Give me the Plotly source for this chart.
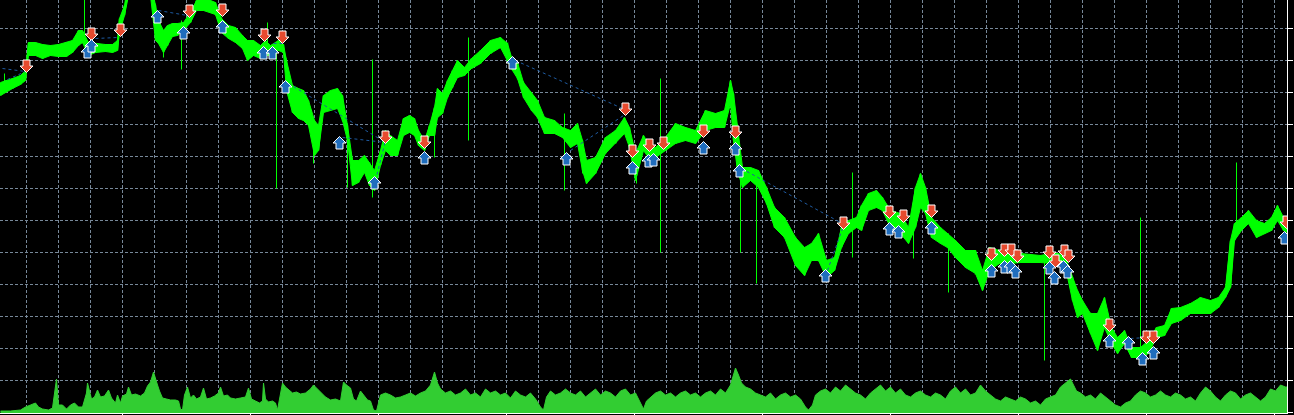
import plotly.graph_objects as go

# Price envelope of the close line, in chart points (1 grid cell = 32 points)
bar_x = [0, 5, 12, 20, 25, 28, 35, 42, 50, 58, 66, 72, 78, 82, 88, 95, 105, 112, 117, 119,
         124, 128, 150, 155, 158, 163, 167, 172, 177, 183, 190, 196, 203, 210, 215, 221, 228, 235, 242, 247,
         253, 260, 265, 270, 278, 283, 286, 292, 298, 303, 308, 314, 318, 323, 330, 337, 342, 347, 352, 358,
         364, 369, 374, 380, 385, 390, 397, 403, 409, 414, 418, 424, 429, 434, 437, 442, 447, 452, 457, 464,
         471, 480, 490, 500, 507, 512, 517, 523, 531, 537, 544, 554, 562, 570, 577, 582, 586, 595, 605, 615,
         624, 629, 635, 643, 648, 655, 665, 675, 685, 695, 705, 715, 724, 730, 733, 737, 742, 750, 758, 766,
         774, 784, 795, 804, 811, 818, 826, 834, 841, 848, 856, 861, 868, 876, 882, 890, 900, 908, 915, 920,
         925, 931, 940, 947, 955, 965, 975, 982, 989, 999, 1010, 1020, 1030, 1040, 1050, 1058, 1065, 1072, 1077, 1082,
         1090, 1097, 1104, 1111, 1117, 1124, 1131, 1140, 1148, 1156, 1164, 1171, 1180, 1190, 1200, 1210, 1218, 1225, 1230, 1234,
         1241, 1248, 1256, 1264, 1271, 1277, 1283, 1287]
bar_high = [330, 332, 334, 337, 342, 370, 370, 368, 367, 368, 370, 372, 382, 382, 370, 369, 368, 368, 372, 394,
            407, 432, 432, 407, 392, 382, 387, 389, 389, 390, 400, 412, 412, 412, 410, 394, 387, 385, 377, 372,
            372, 367, 372, 367, 372, 368, 352, 327, 324, 322, 312, 292, 287, 317, 322, 324, 317, 287, 252, 252,
            257, 250, 242, 262, 282, 277, 272, 294, 297, 294, 282, 272, 287, 305, 324, 319, 332, 342, 352, 345,
            354, 362, 372, 375, 369, 352, 350, 330, 320, 312, 295, 292, 285, 282, 289, 272, 252, 255, 275, 282,
            295, 285, 259, 277, 269, 265, 275, 289, 285, 282, 302, 299, 302, 332, 319, 285, 245, 245, 242, 225,
            205, 195, 175, 165, 169, 179, 152, 155, 185, 192, 195, 207, 219, 222, 215, 202, 199, 185, 225, 239,
            225, 195, 185, 179, 172, 162, 162, 142, 165, 162, 159, 159, 158, 157, 159, 159, 155, 135, 122, 112,
            99, 99, 115, 85, 75, 82, 65, 65, 72, 85, 87, 104, 105, 109, 115, 112, 115, 125, 172, 189,
            195, 202, 192, 189, 195, 207, 195, 192]
bar_low = [317, 320, 324, 328, 332, 357, 357, 354, 357, 356, 356, 360, 367, 370, 357, 360, 361, 360, 362, 380,
           397, 417, 417, 372, 369, 360, 367, 376, 377, 382, 390, 402, 402, 400, 398, 380, 374, 370, 364, 352,
           357, 354, 357, 357, 362, 360, 322, 300, 294, 292, 287, 257, 262, 300, 302, 304, 292, 272, 227, 230,
           240, 227, 222, 247, 262, 257, 257, 277, 280, 277, 267, 262, 277, 277, 295, 299, 315, 325, 335, 337,
           344, 349, 359, 365, 352, 342, 334, 315, 302, 295, 279, 279, 275, 265, 269, 242, 229, 239, 259, 269,
           279, 265, 232, 262, 255, 255, 262, 269, 272, 269, 282, 285, 285, 309, 272, 242, 225, 232, 225, 209,
           185, 175, 147, 137, 152, 152, 135, 142, 165, 179, 185, 182, 202, 205, 202, 185, 179, 169, 185, 205,
           199, 175, 169, 165, 155, 145, 139, 122, 142, 149, 149, 150, 150, 150, 149, 149, 145, 112, 95, 99,
           79, 62, 85, 69, 59, 69, 55, 55, 59, 75, 77, 89, 92, 99, 99, 99, 105, 115, 125, 172,
           182, 189, 175, 179, 182, 192, 182, 180]

# single-bar spikes: bar, high, low
spike_x = [4, 84, 163, 181, 267, 276, 313, 347, 372, 434, 468, 564, 582, 636, 660, 740, 756, 852, 913, 948, 1044, 1140, 1236]
spike_high = [339, 420, 382, 392, 390, 369, 292, 289, 353, 305, 375, 299, 272, 262, 334, 245, 242, 240, 185, 179, 157, 195, 250]
spike_low = [327, 369, 355, 343, 362, 224, 249, 225, 215, 255, 272, 222, 239, 229, 160, 160, 129, 155, 154, 120, 52, 62, 182]

# trade markers
sell_x = [26, 91, 120, 189, 222, 264, 282, 385, 424, 625, 632, 649, 663, 703, 735, 843, 889, 903, 931, 991,
          1004, 1011, 1017, 1049, 1055, 1064, 1068, 1109, 1146, 1153, 1286]
sell_y = [346, 378, 382, 401, 402, 377, 375, 275, 270, 303, 261, 267, 269, 281, 280, 189, 200, 196, 201, 158,
          162, 162, 156, 160, 151, 161, 156, 87, 75, 75, 190]
buy_x = [87, 91, 157, 183, 222, 263, 272, 285, 339, 374, 424, 512, 566, 632, 648, 653, 703, 735, 739, 825,
         889, 898, 931, 991, 1004, 1010, 1015, 1049, 1054, 1063, 1067, 1109, 1128, 1142, 1153, 1284]
buy_y = [361, 367, 396, 380, 386, 360, 360, 326, 270, 230, 255, 350, 254, 245, 252, 253, 265, 264, 242, 137,
         184, 181, 185, 142, 146, 146, 141, 145, 135, 146, 141, 72, 70, 54, 60, 175]

# open -> close trade lines
trade_x0 = [2, 7, 95, 158, 273, 288, 342, 375, 515, 570, 741, 827, 1130]
trade_y0 = [344, 333, 374, 402, 369, 329, 275, 232, 352, 262, 244, 142, 74]
trade_x1 = [25, 25, 117, 187, 283, 385, 385, 385, 622, 623, 840, 842, 1146]
trade_y1 = [341, 341, 375, 397, 369, 270, 270, 272, 304, 297, 190, 184, 75]

# tick volume
vol_x = [0, 10, 20, 25, 30, 35, 38, 42, 48, 52, 56, 58, 62, 66, 70, 74, 78, 82, 86, 87,
         88, 91, 94, 97, 100, 104, 108, 111, 115, 117, 120, 122, 126, 128, 131, 135, 140, 144, 147, 150,
         153, 155, 157, 159, 162, 166, 170, 175, 178, 180, 182, 184, 187, 190, 193, 196, 200, 203, 206, 210,
         214, 218, 220, 223, 227, 230, 235, 240, 245, 248, 251, 255, 259, 262, 263, 265, 268, 272, 275, 277,
         280, 282, 285, 288, 292, 296, 300, 305, 310, 313, 316, 320, 325, 330, 335, 340, 343, 346, 350, 353,
         356, 360, 363, 367, 370, 373, 376, 380, 385, 390, 395, 400, 405, 410, 415, 420, 425, 430, 434, 437,
         440, 445, 450, 455, 460, 465, 470, 475, 480, 485, 490, 495, 500, 505, 510, 515, 520, 525, 530, 535,
         540, 543, 546, 550, 555, 560, 565, 570, 575, 580, 585, 590, 595, 600, 605, 610, 615, 620, 625, 630,
         635, 640, 643, 646, 650, 655, 660, 665, 670, 675, 680, 685, 690, 695, 700, 705, 710, 715, 720, 725,
         730, 735, 738, 741, 745, 750, 755, 760, 765, 770, 775, 780, 785, 790, 795, 800, 805, 808, 812, 815,
         820, 825, 830, 835, 840, 845, 850, 855, 860, 865, 870, 875, 880, 885, 890, 895, 900, 905, 910, 915,
         920, 925, 930, 935, 940, 945, 950, 955, 960, 965, 970, 975, 980, 985, 990, 995, 1000, 1005, 1010, 1015,
         1020, 1025, 1030, 1035, 1040, 1045, 1050, 1055, 1060, 1065, 1070, 1073, 1076, 1080, 1085, 1090, 1095, 1100, 1105, 1110,
         1115, 1120, 1125, 1130, 1135, 1140, 1145, 1150, 1155, 1160, 1165, 1170, 1175, 1180, 1185, 1190, 1195, 1200, 1205, 1210,
         1215, 1220, 1225, 1230, 1235, 1240, 1245, 1250, 1255, 1260, 1265, 1270, 1275, 1280, 1285, 1287]
vol = [2, 2, 3, 6, 8, 10, 6, 4, 3, 5, 34, 8, 8, 4, 8, 10, 6, 6, 20, 30,
       26, 14, 16, 23, 16, 17, 23, 15, 10, 18, 10, 17, 19, 26, 18, 19, 17, 20, 27, 31,
       41, 33, 28, 22, 15, 14, 13, 13, 12, 4, 3, 18, 26, 15, 18, 14, 16, 25, 14, 15,
       17, 20, 26, 17, 18, 15, 14, 15, 16, 25, 14, 12, 10, 12, 30, 14, 11, 12, 10, 3,
       22, 30, 26, 23, 20, 21, 19, 20, 24, 28, 25, 20, 16, 13, 14, 12, 31, 28, 25, 14,
       12, 22, 18, 13, 12, 3, 2, 18, 20, 18, 15, 16, 18, 20, 17, 20, 22, 28, 41, 30,
       24, 20, 22, 18, 20, 24, 18, 20, 16, 24, 20, 22, 18, 20, 15, 22, 18, 16, 20, 14,
       6, 3, 16, 22, 18, 20, 24, 20, 18, 22, 16, 20, 24, 18, 22, 20, 16, 22, 24, 18,
       20, 10, 4, 12, 16, 20, 22, 18, 20, 16, 20, 22, 18, 20, 16, 20, 22, 18, 24, 20,
       28, 45, 38, 30, 26, 24, 20, 18, 16, 20, 14, 18, 20, 16, 18, 14, 6, 3, 8, 18,
       22, 24, 20, 26, 22, 28, 24, 20, 18, 14, 20, 24, 28, 22, 26, 20, 24, 18, 16, 20,
       22, 18, 16, 20, 18, 14, 22, 26, 20, 24, 18, 20, 28, 22, 18, 14, 12, 16, 14, 12,
       16, 14, 10, 12, 8, 14, 16, 18, 26, 30, 34, 28, 22, 20, 16, 18, 14, 20, 16, 12,
       8, 6, 10, 12, 18, 22, 20, 16, 18, 22, 18, 16, 20, 18, 14, 16, 12, 20, 26, 22,
       16, 12, 18, 22, 20, 14, 18, 20, 16, 12, 16, 24, 22, 28, 26, 26]

GRID = '#778899'
GREEN = '#00ff00'

fig = go.Figure()

# volume histogram along the bottom
fig.add_trace(go.Scatter(
    x=vol_x, y=vol, yaxis='y2', mode='lines',
    line=dict(color='#32cd32', width=1), fill='tozeroy', fillcolor='#32cd32',
    hoverinfo='skip',
))

# price band between the bar highs and lows
fig.add_trace(go.Scatter(
    x=bar_x + bar_x[::-1], y=bar_high + bar_low[::-1],
    mode='lines', fill='toself', fillcolor=GREEN,
    line=dict(color=GREEN, width=1), hoverinfo='skip',
))

# each bar high -> low on top, for the ragged close line
px_, py_ = [], []
for x, hi, lo in zip(bar_x, bar_high, bar_low):
    px_ += [x, x]
    py_ += [hi, lo]
fig.add_trace(go.Scatter(x=px_, y=py_, mode='lines',
                         line=dict(color=GREEN, width=1.5), hoverinfo='skip'))

# spikes
sx, sy = [], []
for x, hi, lo in zip(spike_x, spike_high, spike_low):
    sx += [x, x, None]
    sy += [hi, lo, None]
fig.add_trace(go.Scatter(x=sx, y=sy, mode='lines', line=dict(color=GREEN, width=1), hoverinfo='skip'))

# trade lines
tx, ty = [], []
for x0, y0, x1, y1 in zip(trade_x0, trade_y0, trade_x1, trade_y1):
    tx += [x0, x1, None]
    ty += [y0, y1, None]
fig.add_trace(go.Scatter(x=tx, y=ty, mode='lines',
                         line=dict(color='#1e5aa0', width=1, dash='3px,3px'), hoverinfo='skip'))

# arrow glyphs (pixel-sized, anchored on the trade price)
DOWN = 'M-3.5,6.5 L3.5,6.5 L3.5,0.5 L6.5,0.5 L0,-6 L-6.5,0.5 L-3.5,0.5 Z'
UP = 'M-3.5,-6.5 L3.5,-6.5 L3.5,-0.5 L6.5,-0.5 L0,6 L-6.5,-0.5 L-3.5,-0.5 Z'
shapes = []
for x, y in zip(sell_x, sell_y):
    shapes.append(dict(type='path', xref='x', yref='y', xsizemode='pixel', ysizemode='pixel',
                       xanchor=x, yanchor=y, path=DOWN, fillcolor='#e64a2e',
                       line=dict(color='white', width=1)))
for x, y in zip(buy_x, buy_y):
    shapes.append(dict(type='path', xref='x', yref='y', xsizemode='pixel', ysizemode='pixel',
                       xanchor=x, yanchor=y, path=UP, fillcolor='#1f6dbd',
                       line=dict(color='white', width=1)))

fig.update_layout(
    width=1294, height=415,
    margin=dict(l=0, r=7, t=0, b=2),
    paper_bgcolor='black', plot_bgcolor='black',
    showlegend=False,
    shapes=shapes,
    xaxis=dict(
        range=[-0.5, 1286.5], showticklabels=False, zeroline=False,
        showgrid=True, gridcolor=GRID, gridwidth=1, griddash='3px,2px',
        dtick=128, tick0=122, ticks='outside', ticklen=3, tickcolor='white',
        showline=True, linecolor='white', linewidth=1,
        minor=dict(dtick=32, tick0=26, showgrid=True, gridcolor=GRID, gridwidth=1,
                   griddash='3px,2px', ticks=''),
    ),
    yaxis=dict(
        range=[-0.5, 412.5], side='right', showticklabels=False, zeroline=False,
        showgrid=True, gridcolor=GRID, gridwidth=1, griddash='3px,2px',
        dtick=32, tick0=0, ticks='outside', ticklen=5, tickcolor='white',
        showline=True, linecolor='white', linewidth=1,
    ),
    yaxis2=dict(range=[0, 413], overlaying='y', visible=False),
)

fig.write_html("out.html", config={'displayModeBar': False},
               post_script="document.body.style.margin='0';")
